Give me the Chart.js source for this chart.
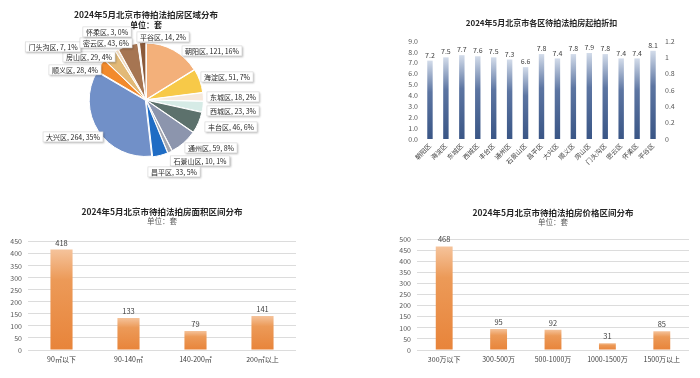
<!DOCTYPE html>
<html>
<head>
<meta charset="utf-8">
<script src="https://cdn.jsdelivr.net/npm/chart.js@4.4.1/dist/chart.umd.min.js"></script>
<style>
    body { margin: 0; background: #fff; }
    #wrap { position: relative; width: 700px; height: 378px; overflow: hidden; background: #fff; }
    #wrap canvas { position: absolute; }
</style>
</head>
<body>
<div id="wrap">
    <canvas id="pieChart" width="350" height="190" style="left:0;top:0"></canvas>
    <canvas id="discountChart" width="350" height="190" style="left:350px;top:0"></canvas>
    <canvas id="areaChart" width="350" height="188" style="left:0;top:190px"></canvas>
    <canvas id="priceChart" width="350" height="188" style="left:350px;top:190px"></canvas>
</div>
<script>
// --- data ---
const pieDistricts = ['朝阳区', '海淀区', '东城区', '西城区', '丰台区', '通州区', '石景山区', '昌平区', '大兴区', '顺义区', '房山区', '门头沟区', '密云区', '怀柔区', '平谷区'];
const pieCounts = [121, 51, 18, 23, 46, 59, 10, 33, 264, 28, 29, 7, 43, 3, 14];
const piePercents = [16, 7, 2, 3, 6, 8, 1, 5, 35, 4, 4, 1, 6, 0, 2];

const discountDistricts = ['朝阳区', '海淀区', '东城区', '西城区', '丰台区', '通州区', '石景山区', '昌平区', '大兴区', '顺义区', '房山区', '门头沟区', '密云区', '怀柔区', '平谷区'];
const discountValues = [7.2, 7.5, 7.7, 7.6, 7.5, 7.3, 6.6, 7.8, 7.4, 7.8, 7.9, 7.8, 7.4, 7.4, 8.1];
const rightAxisTicks = ['0', '0.2', '0.4', '0.6', '0.8', '1', '1.2'];

const areaRanges = ['90㎡以下', '90-140㎡', '140-200㎡', '200㎡以上'];
const areaCounts = [418, 133, 79, 141];

const priceRanges = ['300万以下', '300-500万', '500-1000万', '1000-1500万', '1500万以上'];
const priceCounts = [468, 95, 92, 31, 85];

// --- styling ---
const FONT = '"Noto Sans CJK SC", "Noto Sans", sans-serif';
Chart.defaults.font.family = FONT;
Chart.defaults.color = '#595959';

const pieColors = ['#f3b07a', '#f7c948', '#f6e9dc', '#d6ebe6', '#5c716c', '#8c95ad', '#a3a6b0', '#1f6cc4',
    '#7190c8', '#f28a2c', '#e2b977', '#efd9bd', '#a67552', '#f3e4d4', '#8b5a3a'];
// label box centres, relative to the pie centre
const pieLabelOffsets = [[66, -49], [81, -23], [87, -3], [87, 11], [85, 27], [65, 48], [54, 61], [28, 72],
    [-73, 37], [-71, -30], [-57, -43], [-93, -53], [-40, -57], [-39, -68], [17, -63]];

const blueStops = [[0, '#d3dcea'], [0.4, '#5c75a2'], [1, '#3a5686']];
const orangeStops = [[0, '#f5c39b'], [0.3, '#ec9a58'], [1, '#e8843a']];

function barGradient(stops) {
    return (context) => {
        const chart = context.chart;
        const { ctx, chartArea } = chart;
        if (!chartArea || context.type !== 'data') return stops[stops.length - 1][1];
        const yScale = chart.scales.y;
        const top = yScale.getPixelForValue(context.raw);
        const base = yScale.getPixelForValue(0);
        const g = ctx.createLinearGradient(0, top, 0, base);
        stops.forEach(([o, c]) => g.addColorStop(o, c));
        return g;
    };
}

// value labels above the bars
const barValueLabels = {
    id: 'barValueLabels',
    afterDatasetsDraw(chart, args, opts) {
        const ctx = chart.ctx;
        const meta = chart.getDatasetMeta(0);
        const values = chart.data.datasets[0].data;
        ctx.save();
        ctx.font = opts.size + 'px ' + FONT;
        ctx.fillStyle = '#404040';
        ctx.textAlign = 'center';
        ctx.textBaseline = 'bottom';
        meta.data.forEach((bar, i) => {
            ctx.fillText(values[i].toFixed(opts.decimals), bar.x, bar.y - opts.gap);
        });
        ctx.restore();
    }
};

// callout boxes for the pie slices
const pieCallouts = {
    id: 'pieCallouts',
    afterDatasetsDraw(chart) {
        const ctx = chart.ctx;
        const meta = chart.getDatasetMeta(0);
        ctx.save();
        ctx.font = '7px ' + FONT;
        ctx.textAlign = 'center';
        ctx.textBaseline = 'middle';
        meta.data.forEach((arc, i) => {
            const text = pieDistricts[i] + ', ' + pieCounts[i] + ', ' + piePercents[i] + '%';
            const w = ctx.measureText(text).width + 6;
            const h = 10;
            const cx = arc.x + pieLabelOffsets[i][0];
            const cy = arc.y + pieLabelOffsets[i][1];
            ctx.shadowColor = 'rgba(0,0,0,0.3)';
            ctx.shadowBlur = 2;
            ctx.shadowOffsetX = 1;
            ctx.shadowOffsetY = 1;
            ctx.fillStyle = '#fff';
            ctx.fillRect(cx - w / 2, cy - h / 2, w, h);
            ctx.shadowColor = 'transparent';
            ctx.strokeStyle = '#d6d6d6';
            ctx.lineWidth = 0.6;
            ctx.strokeRect(cx - w / 2, cy - h / 2, w, h);
            ctx.fillStyle = '#262626';
            ctx.fillText(text, cx, cy + 0.5);
        });
        ctx.restore();
    }
};

// 1. District pie
new Chart(document.getElementById('pieChart'), {
    type: 'pie',
    data: {
        labels: pieDistricts,
        datasets: [{
            data: pieCounts,
            backgroundColor: pieColors,
            borderColor: '#fff',
            borderWidth: 1,
            offset: 3,
            radius: 56
        }]
    },
    options: {
        responsive: false,
        animation: false,
        layout: { padding: { left: 30, right: 88, top: 0, bottom: 20 } },
        plugins: {
            legend: { display: false },
            tooltip: { enabled: false },
            title: { display: true, text: '2024年5月北京市待拍法拍房区域分布', color: '#262626',
                font: { size: 8.5, weight: 'bold' }, padding: { top: 10, bottom: 0 } },
            subtitle: { display: true, text: '单位：套', color: '#262626',
                font: { size: 8, weight: 'bold' }, padding: { top: 0, bottom: 0 } }
        }
    },
    plugins: [pieCallouts]
});

// 2. Discount by district
new Chart(document.getElementById('discountChart'), {
    type: 'bar',
    data: {
        labels: discountDistricts,
        datasets: [{
            data: discountValues,
            backgroundColor: barGradient(blueStops),
            barPercentage: 0.34,
            categoryPercentage: 1,
            yAxisID: 'y'
        }]
    },
    options: {
        responsive: false,
        animation: false,
        layout: { padding: { left: 48, right: 15, top: 0, bottom: 11 } },
        plugins: {
            legend: { display: false },
            tooltip: { enabled: false },
            title: { display: true, text: '2024年5月北京市各区待拍法拍房起拍折扣', color: '#262626',
                font: { size: 8, weight: 'bold' }, padding: { top: 18, bottom: 13.4 } },
            barValueLabels: { size: 7, gap: 2, decimals: 1 }
        },
        scales: {
            x: {
                grid: { display: false, drawTicks: false },
                border: { display: false },
                ticks: { minRotation: 45, maxRotation: 45, autoSkip: false, font: { size: 6.5 }, color: '#404040', padding: 3 },
                afterFit: (s) => { s.height = 40; }
            },
            y: {
                position: 'left', min: 0, max: 9,
                grid: { display: false, drawTicks: false },
                border: { display: false },
                ticks: { stepSize: 1, autoSkip: false, callback: (v) => v.toFixed(1), font: { size: 7 }, padding: 4 },
                afterFit: (s) => { s.width = 24; }
            },
            y1: {
                position: 'right', min: 0, max: 1.2,
                grid: { display: false, drawTicks: false },
                border: { display: false },
                ticks: { stepSize: 0.2, autoSkip: false, callback: (v, i) => rightAxisTicks[i], font: { size: 7 }, padding: 4 },
                afterFit: (s) => { s.width = 24; }
            }
        }
    },
    plugins: [barValueLabels]
});

// 3. and 4. Orange count charts share one layout
function countChart(id, labels, values, title, cfg) {
    return new Chart(document.getElementById(id), {
        type: 'bar',
        data: {
            labels: labels,
            datasets: [{
                data: values,
                backgroundColor: barGradient(orangeStops),
                barPercentage: cfg.barPct,
                categoryPercentage: 1
            }]
        },
        options: {
            responsive: false,
            animation: false,
            layout: { padding: { left: cfg.left, right: cfg.right, top: 0, bottom: 14 } },
            plugins: {
                legend: { display: false },
                tooltip: { enabled: false },
                title: { display: true, text: title, color: '#262626', fullSize: false,
                    font: { size: 8.5, weight: 'bold' }, padding: { top: cfg.titleTop, bottom: 0 } },
                subtitle: { display: true, text: '单位：套', color: '#595959', fullSize: false,
                    font: { size: 7.5 }, padding: { top: 0, bottom: cfg.subBottom } },
                barValueLabels: { size: 7.5, gap: 3, decimals: 0 }
            },
            scales: {
                x: {
                    grid: { display: false, drawTicks: false },
                    border: { display: false },
                    ticks: { font: { size: 7 }, color: '#404040', padding: 5, maxRotation: 0, autoSkip: false },
                    afterFit: (s) => { s.height = 14; }
                },
                y: {
                    min: 0, max: cfg.max,
                    grid: { color: '#dcdcdc', drawTicks: false },
                    border: { display: false },
                    ticks: { stepSize: 50, autoSkip: false, font: { size: 7 }, padding: 6 },
                    afterFit: (s) => { s.width = cfg.axisW; }
                }
            }
        },
        plugins: [barValueLabels]
    });
}

countChart('areaChart', areaRanges, areaCounts, '2024年5月北京市待拍法拍房面积区间分布',
    { left: 4, right: 54, axisW: 24, max: 450, barPct: 0.33, titleTop: 16.6, subBottom: 16 });
countChart('priceChart', priceRanges, priceCounts, '2024年5月北京市待拍法拍房价格区间分布',
    { left: 37, right: 11, axisW: 30, max: 500, barPct: 0.31, titleTop: 17.9, subBottom: 12.2 });
</script>
</body>
</html>
